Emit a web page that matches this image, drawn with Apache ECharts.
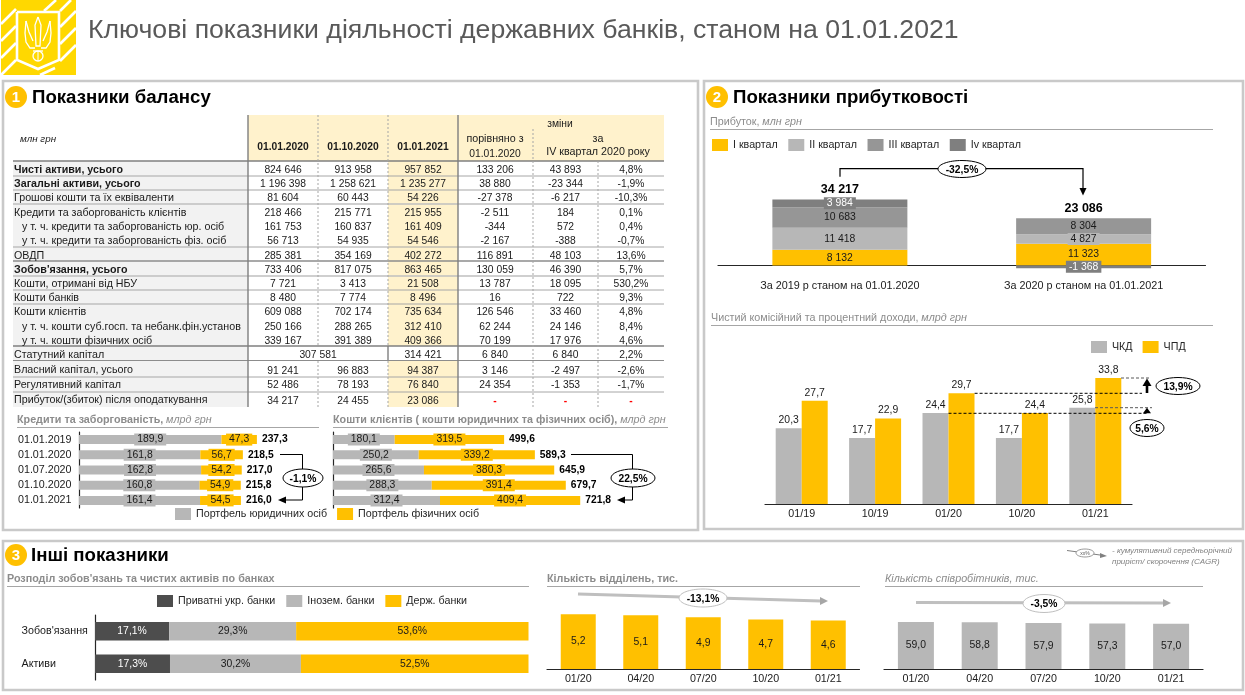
<!DOCTYPE html>
<html>
<head>
<meta charset="utf-8">
<title>Ключові показники</title>
<script src="https://cdn.jsdelivr.net/npm/echarts@6/dist/echarts.min.js"></script>
<style>
html, body { margin: 0; padding: 0; background: #fff; }
#main { width: 1245px; height: 695px; }
</style>
</head>
<body>
<div id="main"></div>
<script>
// table
var rowNames = ['Чисті активи, усього', 'Загальні активи, усього', 'Грошові кошти та їх еквіваленти',
  'Кредити та заборгованість клієнтів', 'у т. ч. кредити та заборгованість юр. осіб', 'у т. ч. кредити та заборгованість фіз. осіб',
  'ОВДП', "Зобов'язання, усього", 'Кошти, отримані від НБУ', 'Кошти банків', 'Кошти клієнтів',
  'у т. ч. кошти суб.госп. та небанк.фін.установ', 'у т. ч. кошти фізичних осіб', 'Статутний капітал',
  'Власний капітал, усього', 'Регулятивний капітал', 'Прибуток/(збиток) після оподаткування'];
var boldRows = [0, 1, 7];
var indentRows = [4, 5, 11, 12];
var val20200101 = [824646, 1196398, 81604, 218466, 161753, 56713, 285381, 733406, 7721, 8480, 609088, 250166, 339167, 307581, 91241, 52486, 34217];
var val20201001 = [913958, 1258621, 60443, 215771, 160837, 54935, 354169, 817075, 3413, 7774, 702174, 288265, 391389, null, 96883, 78193, 24455];
var val20210101 = [957852, 1235277, 54226, 215955, 161409, 54546, 402272, 863465, 21508, 8496, 735634, 312410, 409366, 314421, 94387, 76840, 23086];
var chgYear = [133206, 38880, -27378, -2511, -344, -2167, 116891, 130059, 13787, 16, 126546, 62244, 70199, 6840, 3146, 24354, null];
var chgQuarter = [43893, -23344, -6217, 184, 572, -388, 48103, 46390, 18095, 722, 33460, 24146, 17976, 6840, -2497, -1353, null];
var chgQuarterPct = [4.8, -1.9, -10.3, 0.1, 0.4, -0.7, 13.6, 5.7, 530.2, 9.3, 4.8, 8.4, 4.6, 2.2, -2.6, -1.7, null];

// credits and client funds
var dates = ['01.01.2019', '01.01.2020', '01.07.2020', '01.10.2020', '01.01.2021'];
var creditLegal = [189.9, 161.8, 162.8, 160.8, 161.4];
var creditRetail = [47.3, 56.7, 54.2, 54.9, 54.5];
var creditTotal = [237.3, 218.5, 217.0, 215.8, 216.0];
var fundsLegal = [180.1, 250.2, 265.6, 288.3, 312.4];
var fundsRetail = [319.5, 339.2, 380.3, 391.4, 409.4];
var fundsTotal = [499.6, 589.3, 645.9, 679.7, 721.8];

// profit
var profitYears = ['За 2019 р станом на 01.01.2020', 'За 2020 р станом на 01.01.2021'];
var profitQ1 = [8132, 11323];
var profitQ2 = [11418, 4827];
var profitQ3 = [10683, 8304];
var profitQ4 = [3984, -1368];
var profitTotal = [34217, 23086];

// income
var incomeDates = ['01/19', '10/19', '01/20', '10/20', '01/21'];
var incomeFee = [20.3, 17.7, 24.4, 17.7, 25.8];
var incomeInterest = [27.7, 22.9, 29.7, 24.4, 33.8];

// other
var shareRows = ["Зобов'язання", 'Активи'];
var sharePrivate = [17.1, 17.3];
var shareForeign = [29.3, 30.2];
var shareState = [53.6, 52.5];
var staffDates = ['01/20', '04/20', '07/20', '10/20', '01/21'];
var branches = [5.2, 5.1, 4.9, 4.7, 4.6];
var employees = [59.0, 58.8, 57.9, 57.3, 57.0];

var FONT = '"Liberation Sans", Arial, sans-serif';
var YELLOW = '#FFC000', GREY = '#B7B7B7', INK = '#1A1A1A', SUB = '#8C8C8C';

function grp(v) {
  var s = String(Math.abs(v)).replace(/\B(?=(\d{3})+(?!\d))/g, ' ');
  return (v < 0 ? '-' : '') + s;
}
function dec(v) { return v.toFixed(1).replace('.', ','); }

var gfx = [];
function txt(x, y, s, o) {
  o = o || {};
  gfx.push({
    type: 'text', z: o.z || 12, silent: true,
    style: {
      x: x, y: y + 0.7, text: s, fill: o.color || INK, textAlign: o.align || 'left', textVerticalAlign: 'middle',
      font: (o.style || '') + ' ' + (o.weight || '') + ' ' + (o.size || 10.3) + 'px ' + FONT,
      rich: o.rich
    }
  });
}
function box(x, y, w, h, fill, o) {
  o = o || {};
  gfx.push({ type: 'rect', z: o.z || 1, silent: true, shape: { x: x, y: y, width: w, height: h },
    style: { fill: fill, stroke: o.stroke || null, lineWidth: o.lw || 0 } });
}
function seg(x1, y1, x2, y2, color, lw, dash, z) {
  gfx.push({ type: 'line', z: z || 3, silent: true, shape: { x1: x1, y1: y1, x2: x2, y2: y2 },
    style: { stroke: color, lineWidth: lw || 1, lineDash: dash || null } });
}
function poly(points, color, z) {
  gfx.push({ type: 'polygon', z: z || 20, silent: true, shape: { points: points }, style: { fill: color } });
}
function pline(points, color, lw) {
  gfx.push({ type: 'polyline', z: 20, silent: true, shape: { points: points }, style: { stroke: color, lineWidth: lw, fill: null } });
}
function oval(cx, cy, rx, ry, s, stroke) {
  gfx.push({ type: 'ellipse', z: 21, silent: true, shape: { cx: cx, cy: cy, rx: rx, ry: ry },
    style: { fill: '#fff', stroke: stroke || '#000', lineWidth: 1 } });
  txt(cx, cy, s, { weight: 'bold', align: 'center', z: 22, color: '#000' });
}

// logo
box(1, 0, 75, 75, '#FFD800');
[[44, 11, 56, 0], [60, 11, 71, 0], [60, 27, 76, 11], [60, 44, 76, 28], [60, 61, 76, 45],
 [1, 24, 16, 9], [1, 41, 16, 26], [1, 58, 16, 43], [1, 75, 16, 60], [40, 75, 55, 68]].forEach(function(p) {
  seg(p[0], p[1], p[2], p[3], '#fff', 2.6);
});
pline([[17, 12], [59, 12], [59, 60], [38, 69], [17, 60], [17, 12]], '#fff', 2.6);
// trident
pline([[38, 17], [41, 25], [40, 46], [36, 46], [35, 25], [38, 17]], '#fff', 1.3);
pline([[26, 21], [25, 33], [26, 42], [30, 48], [35, 48]], '#fff', 1.3);
pline([[50, 21], [51, 33], [50, 42], [46, 48], [41, 48]], '#fff', 1.3);
pline([[26, 21], [29, 32], [33, 41]], '#fff', 1.3);
pline([[50, 21], [47, 32], [43, 41]], '#fff', 1.3);
pline([[33, 51], [43, 51]], '#fff', 1.3);
gfx.push({ type: 'circle', z: 20, silent: true, shape: { cx: 38, cy: 56, r: 5 }, style: { fill: null, stroke: '#fff', lineWidth: 1.3 } });
pline([[38, 51], [38, 61]], '#fff', 1);

txt(88, 30, 'Ключові показники діяльності державних банків, станом на 01.01.2021', { size: 26.65, color: '#595959' });

// panels
[[3, 81, 695, 449], [704, 81, 539, 448], [3, 541, 1240, 149]].forEach(function(p) {
  box(p[0], p[1], p[2], p[3], '#fff', { stroke: '#C9C9C9', lw: 2.6, z: -1 });
});
function badge(cx, cy, n, title, x) {
  gfx.push({ type: 'circle', z: 5, silent: true, shape: { cx: cx, cy: cy, r: 11 }, style: { fill: YELLOW } });
  txt(cx, cy, n, { weight: 'bold', size: 15, color: '#fff', align: 'center' });
  txt(x, cy, title, { weight: 'bold', size: 18.65, color: '#000' });
}
badge(16, 97, '1', 'Показники балансу', 32);
badge(717, 97, '2', 'Показники прибутковості', 733);
badge(16, 555, '3', 'Інші показники', 31);

// balance table
var rowY = [169.5, 183.5, 197.5, 212, 226, 240, 255, 269, 283, 297, 311, 326, 340, 354, 370.5, 384.5, 400.5];
var colX = [283, 353, 423, 495, 565.5, 631];
box(248, 115, 416, 46, '#FFF2CC');
box(388, 161, 70, 185, '#FFF2CC');
box(388, 361, 70, 46, '#FFF2CC');
box(13, 161, 235, 246, '#F2F2F2');
seg(388, 346, 388, 361, '#7F7F7F', 1.4);
[[161, '#7F7F7F', 1.4], [176, '#A6A6A6', 1], [190, '#A6A6A6', 1.2], [204, '#BFBFBF', 1.6], [247, '#A6A6A6', 1],
 [261, '#8C8C8C', 1.4], [276, '#BFBFBF', 1.4], [290, '#A6A6A6', 1], [304, '#A6A6A6', 1],
 [346, '#7F7F7F', 1.4], [360.5, '#8C8C8C', 1.2], [377, '#A6A6A6', 1], [392, '#A6A6A6', 1]].forEach(function(l) {
  seg(13, l[0], 664, l[0], l[1], l[2]);
});
seg(248, 115, 248, 407, '#7F7F7F', 1.4);
seg(458, 115, 458, 407, '#7F7F7F', 1.4);
var dashGrey = '#A6A6A6';
seg(318, 115, 318, 346, dashGrey, 1, [2, 2]);
seg(318, 361, 318, 407, dashGrey, 1, [2, 2]);
seg(388, 115, 388, 346, dashGrey, 1, [2, 2]);
seg(388, 361, 388, 407, dashGrey, 1, [2, 2]);
seg(533, 129, 533, 407, dashGrey, 1, [2, 2]);
seg(598, 161, 598, 407, dashGrey, 1, [2, 2]);
txt(20, 139, 'млн грн', { style: 'italic', size: 9.8 });
txt(283, 146, '01.01.2020', { weight: 'bold', align: 'center' });
txt(353, 146, '01.10.2020', { weight: 'bold', align: 'center' });
txt(423, 146, '01.01.2021', { weight: 'bold', align: 'center' });
txt(560, 123, 'зміни', { align: 'center' });
txt(495, 138, 'порівняно з', { align: 'center', size: 10.7 });
txt(495, 153, '01.01.2020', { align: 'center' });
txt(598, 138, 'за', { align: 'center', size: 10.7 });
txt(598, 151, 'IV квартал 2020 року', { align: 'center', size: 10.7 });
rowNames.forEach(function(name, i) {
  var isBold = boldRows.indexOf(i) >= 0;
  var dy = i === 14 || i === 16 ? -1 : 0;
  txt(indentRows.indexOf(i) >= 0 ? 22 : 14, rowY[i] + dy, name, { weight: isBold ? 'bold' : '', size: 10.7 });
  if (i === 13) txt(318, rowY[i], grp(val20200101[i]), { align: 'center' });
  else {
    txt(colX[0], rowY[i], grp(val20200101[i]), { align: 'center' });
    txt(colX[1], rowY[i], grp(val20201001[i]), { align: 'center' });
  }
  txt(colX[2], rowY[i], grp(val20210101[i]), { align: 'center' });
  if (chgYear[i] === null) {
    txt(colX[3], rowY[i], '-', { align: 'center', color: '#FF0000', weight: 'bold' });
    txt(colX[4], rowY[i], '-', { align: 'center', color: '#FF0000', weight: 'bold' });
    txt(colX[5], rowY[i], '-', { align: 'center', color: '#FF0000', weight: 'bold' });
  } else {
    txt(colX[3], rowY[i], grp(chgYear[i]), { align: 'center' });
    txt(colX[4], rowY[i], grp(chgQuarter[i]), { align: 'center' });
    txt(colX[5], rowY[i], dec(chgQuarterPct[i]) + '%', { align: 'center' });
  }
});

// section captions
var capRich = {
  b: { fontWeight: 'bold', fontSize: 10.75, fontFamily: FONT, fill: SUB, color: SUB },
  n: { fontSize: 10.75, fontFamily: FONT, fill: SUB, color: SUB },
  i: { fontStyle: 'italic', fontSize: 10.75, fontFamily: FONT, fill: SUB, color: SUB }
};
function caption(x, y, s, x2) {
  txt(x, y, s, { rich: capRich, color: SUB });
  seg(x, y + 8.5, x2, y + 8.5, '#A6A6A6', 1.2);
}
caption(17, 419, '{b|Кредити та заборгованість,} {i|млрд грн}', 319);
caption(333, 419, '{b|Кошти клієнтів ( кошти юридичних та фізичних осіб),} {i|млрд грн}', 668);
caption(710, 121, '{n|Прибуток,} {i|млн грн}', 1213);
caption(711, 317, '{n|Чистий комісійний та процентний доходи,} {i|млрд грн}', 1213);
caption(7, 578, "{b|Розподіл зобов'язань та чистих активів по банках}", 529);
caption(547, 578, '{b|Кількість відділень, тис.}', 860);
caption(885, 578, '{i|Кількість співробітників, тис.}', 1203);

// annotations
pline([[280, 454.5], [302.5, 454.5], [302.5, 500], [285, 500]], '#000', 1);
poly([[278, 500], [286, 496.5], [286, 503.5]], '#000');
oval(303, 478, 20, 9, '-1,1%');
pline([[571, 454.5], [632.5, 454.5], [632.5, 500], [624, 500]], '#000', 1);
poly([[617, 500], [625, 496.5], [625, 503.5]], '#000');
oval(633, 478, 22, 9, '22,5%');

pline([[840, 176.7], [840, 168.7], [1083, 168.7], [1083, 190]], '#000', 1.2);
poly([[1083, 195.5], [1079.5, 188], [1086.5, 188]], '#000');
oval(962, 169, 24, 8.5, '-32,5%');

seg(974.6, 393.3, 1142, 393.3, '#000', 1, [3, 2], 20);
seg(1121, 378, 1151, 378, '#595959', 1, [3, 2], 20);
seg(948.5, 413.3, 1147, 413.3, '#000', 1, [3, 2], 20);
seg(1095, 407.7, 1152, 407.7, '#595959', 1, [3, 2], 20);
seg(1147, 393, 1147, 384, '#000', 2.6, null, 20);
poly([[1147, 378.5], [1142.5, 386], [1151.5, 386]], '#000');
poly([[1147, 407.7], [1143, 413.3], [1151, 413.3]], '#000');
oval(1178, 386, 22, 8.5, '13,9%');
oval(1147, 428, 17, 8.5, '5,6%');

function greyArrow(x1, y1, x2, y2) {
  seg(x1, y1, x2 - 7, y2, '#BFBFBF', 3, null, 20);
  poly([[x2, y2], [x2 - 8, y2 - 4], [x2 - 8, y2 + 4]], '#A6A6A6');
}
greyArrow(578, 594, 828, 601);
oval(703, 598, 24, 9, '-13,1%', '#BFBFBF');
greyArrow(916, 602.5, 1171, 603);
oval(1044, 603.5, 21, 9, '-3,5%', '#BFBFBF');
seg(1067, 550.5, 1100, 555, '#808080', 1, null, 20);
poly([[1107, 556], [1100, 553], [1100, 558]], '#808080');
gfx.push({ type: 'ellipse', z: 21, silent: true, shape: { cx: 1085, cy: 553, rx: 9, ry: 4 }, style: { fill: '#fff', stroke: '#808080', lineWidth: 0.8 } });
txt(1085, 553, 'хх%', { size: 5, align: 'center', z: 22, color: '#595959' });
txt(1112, 550, '- кумулятивний середньорічний', { size: 8, style: 'italic', color: '#808080' });
txt(1112, 561, 'приріст/ скорочення (CAGR)', { size: 8, style: 'italic', color: '#808080' });

// charts
function catAxis(grid, data, extra) {
  var a = {
    type: 'category', gridIndex: grid, data: data,
    axisTick: { show: false },
    axisLine: { lineStyle: { color: '#262626', width: 1.2 } },
    axisLabel: { color: INK, fontSize: 10.7, fontFamily: FONT, margin: 5, interval: 0 }
  };
  for (var k in extra) a[k] = extra[k];
  return a;
}
function valAxis(grid, min, max) {
  return { type: 'value', gridIndex: grid, min: min, max: max, show: false, splitLine: { show: false } };
}
function hLabel(side) {
  return { inverse: true, axisLabel: { color: INK, fontSize: 10.7, fontFamily: FONT, margin: side, align: 'left', interval: 0 } };
}
function bar(name, x, y, stack, data, color, o) {
  o = o || {};
  return {
    name: name, type: 'bar', xAxisIndex: x, yAxisIndex: y, stack: stack, data: data, barWidth: o.w, barGap: o.gap,
    itemStyle: { color: color }, silent: true, animation: false,
    label: {
      show: true, position: o.pos || 'inside', distance: o.dist, color: o.text || INK, fontSize: 10.4, fontFamily: FONT,
      backgroundColor: o.bg, padding: o.bg ? [1, 3] : 0,
      formatter: o.fmt || function(p) { return dec(p.value); }
    }
  };
}
function totalBar(x, y, stack, totals, fmt, pos, size, dist, w) {
  return {
    name: 'Разом', type: 'bar', xAxisIndex: x, yAxisIndex: y, stack: stack, stackStrategy: 'positive', barWidth: w, silent: true, animation: false,
    data: totals.map(function() { return 0; }), itemStyle: { color: 'transparent' },
    label: {
      show: true, position: pos, distance: dist, color: '#000', fontWeight: 'bold', fontSize: size, fontFamily: FONT,
      formatter: function(p) { return fmt(totals[p.dataIndex]); }
    }
  };
}
function legendAt(left, top, names, gap) {
  return {
    left: left, top: top, data: names, icon: 'rect', itemWidth: 16, itemHeight: 12, itemGap: gap, selectedMode: false,
    padding: 0, textStyle: { color: '#262626', fontSize: 10.7, fontFamily: FONT }
  };
}
var pctFmt = function(p) { return dec(p.value) + '%'; };
var grpFmt = function(p) { return grp(p.value); };

var option = {
  animation: false,
  backgroundColor: '#fff',
  textStyle: { fontFamily: FONT },
  graphic: gfx,
  legend: [
    legendAt(175, 508, ['Портфель юридичних осіб', 'Портфель фізичних осіб'], 10),
    legendAt(712, 139, ['I квартал', 'II квартал', 'III квартал', 'Iv квартал'], 10.5),
    legendAt(1091, 341, ['ЧКД', 'ЧПД'], 10),
    legendAt(157, 595, ['Приватні укр. банки', 'Інозем. банки', 'Держ. банки'], 11)
  ],
  grid: [
    { left: 79, top: 432, width: 225, height: 76 },
    { left: 333, top: 432, width: 274, height: 76 },
    { left: 718, top: 188.3, width: 487.5, height: 86.85 },
    { left: 765, top: 354.8, width: 367, height: 149.2 },
    { left: 95, top: 615, width: 433.5, height: 65 },
    { left: 547, top: 584.6, width: 312.5, height: 84.4 },
    { left: 884, top: 589.4, width: 319, height: 79.6 }
  ],
  xAxis: [
    valAxis(0, 0, 300),
    valAxis(1, 0, 800),
    catAxis(2, profitYears, { axisLabel: { color: INK, fontSize: 10.8, fontFamily: FONT, margin: 5.5, interval: 0 } }),
    catAxis(3, incomeDates),
    valAxis(4, 0, 100),
    catAxis(5, staffDates),
    catAxis(6, staffDates)
  ],
  yAxis: [
    catAxis(0, dates, hLabel(61)),
    catAxis(1, dates, { inverse: true, axisLabel: { show: false } }),
    valAxis(2, -5000, 40000),
    valAxis(3, 0, 40),
    catAxis(4, shareRows, hLabel(73.5)),
    valAxis(5, 0, 8),
    valAxis(6, 0, 100)
  ],
  series: [
    bar('Портфель юридичних осіб', 0, 0, 'a', creditLegal, GREY, { w: 9, bg: GREY }),
    bar('Портфель фізичних осіб', 0, 0, 'a', creditRetail, YELLOW, { w: 9, bg: YELLOW }),
    totalBar(0, 0, 'a', creditTotal, dec, 'right', 10.3, 5, 9),
    bar('Портфель юридичних осіб', 1, 1, 'b', fundsLegal, GREY, { w: 9, bg: GREY }),
    bar('Портфель фізичних осіб', 1, 1, 'b', fundsRetail, YELLOW, { w: 9, bg: YELLOW }),
    totalBar(1, 1, 'b', fundsTotal, dec, 'right', 10.3, 5, 9),

    bar('I квартал', 2, 2, 'p', profitQ1, YELLOW, { w: 135, bg: YELLOW, fmt: grpFmt }),
    bar('II квартал', 2, 2, 'p', profitQ2, GREY, { w: 135, bg: GREY, fmt: grpFmt }),
    bar('III квартал', 2, 2, 'p', profitQ3, '#969696', { w: 135, bg: '#969696', fmt: grpFmt }),
    bar('Iv квартал', 2, 2, 'p', profitQ4, '#7F7F7F', { w: 135, bg: '#7F7F7F', fmt: grpFmt, text: '#fff' }),
    totalBar(2, 2, 'p', profitTotal, grp, 'top', 12.5, 3, 135),

    bar('ЧКД', 3, 3, null, incomeFee, GREY, { w: 26, gap: 0, pos: 'top', dist: 3 }),
    bar('ЧПД', 3, 3, null, incomeInterest, YELLOW, { w: 26, gap: 0, pos: 'top', dist: 3 }),

    bar('Приватні укр. банки', 4, 4, 's', sharePrivate, '#4D4D4D', { w: 18.5, fmt: pctFmt, text: '#fff' }),
    bar('Інозем. банки', 4, 4, 's', shareForeign, GREY, { w: 18.5, fmt: pctFmt }),
    bar('Держ. банки', 4, 4, 's', shareState, YELLOW, { w: 18.5, fmt: pctFmt }),

    bar('Кількість відділень', 5, 5, null, branches, YELLOW, { w: 35 }),
    bar('Кількість співробітників', 6, 6, null, employees, GREY, { w: 36 })
  ]
};
var myChart = echarts.init(document.getElementById('main'));
myChart.setOption(option);
</script>
</body>
</html>
